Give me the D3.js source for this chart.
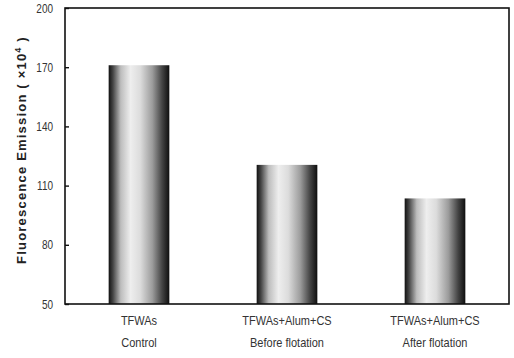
<!DOCTYPE html>
<html><head><meta charset="utf-8">
<script src="https://cdn.jsdelivr.net/npm/d3@7"></script>
<style>
html,body{margin:0;padding:0;background:#fff;}
svg{display:block;}
</style></head>
<body>
<script>
const categories = ["TFWAs|Control", "TFWAs+Alum+CS|Before flotation", "TFWAs+Alum+CS|After flotation"];
const values = [171, 120.5, 103.5];
const yTicks = [50, 80, 110, 140, 170, 200];

const W = 514, H = 358;
const m = {left: 65, right: 5, top: 8, bottom: 54};
const svg = d3.select("body").append("svg").attr("width", W).attr("height", H);

const defs = svg.append("defs");
const g = defs.append("linearGradient").attr("id", "cyl").attr("x1", "0").attr("x2", "1").attr("y1", "0").attr("y2", "0");
[[0, "#111"], [0.07, "#444"], [0.2, "#bdbdbd"], [0.36, "#eeeeee"], [0.52, "#dcdcdc"], [0.72, "#9c9c9c"], [0.88, "#444"], [1, "#0e0e0e"]]
  .forEach(([o, c]) => g.append("stop").attr("offset", o).attr("stop-color", c));

const x = d3.scaleBand().domain(categories).range([m.left, W - m.right]).padding(0);
const y = d3.scaleLinear().domain([50, 200]).range([H - m.bottom, m.top]);
const bw = x.bandwidth() * 0.41;

svg.append("g").selectAll("rect").data(categories).join("rect")
  .attr("x", d => x(d) + x.bandwidth() / 2 - bw / 2)
  .attr("y", (d, i) => y(values[i]))
  .attr("width", bw)
  .attr("height", (d, i) => y(50) - y(values[i]))
  .attr("fill", "url(#cyl)");

// frame
svg.append("rect").attr("x", m.left).attr("y", m.top)
  .attr("width", W - m.right - m.left).attr("height", H - m.bottom - m.top)
  .attr("fill", "none").attr("stroke", "#111").attr("stroke-width", 1.6);

const sx = 0.8;
const yAxis = svg.append("g").attr("transform", `translate(${m.left},0)`)
  .call(d3.axisRight(y).tickValues(yTicks).tickSize(4).tickFormat(d3.format("d")));
yAxis.select(".domain").remove();
yAxis.selectAll("line").attr("stroke", "#111").attr("stroke-width", 1.4);
yAxis.selectAll("text").attr("x", -12 / sx).attr("text-anchor", "end")
  .attr("transform", `scale(${sx},1)`)
  .attr("font-family", "'Liberation Sans',Arial,sans-serif")
  .attr("font-size", 12.5).attr("fill", "#333");

const sx2 = 0.88;
const xAxis = svg.append("g").attr("transform", `translate(0,${H - m.bottom})`)
  .call(d3.axisBottom(x).tickSize(0).tickFormat(""));
xAxis.select(".domain").remove();
xAxis.selectAll(".tick").each(function(d) {
  const parts = d.split("|");
  const t = d3.select(this).append("text")
    .attr("transform", `scale(${sx2},1)`)
    .attr("text-anchor", "middle").attr("fill", "#333")
    .attr("font-family", "'Liberation Sans',Arial,sans-serif")
    .attr("font-size", 12.5);
  parts.forEach((p, i) => t.append("tspan").attr("x", 0).attr("y", 21 + i * 22).text(p));
});

const title = svg.append("text")
  .attr("transform", `translate(26,150) rotate(-90)`)
  .attr("text-anchor", "middle")
  .attr("font-family", "'Liberation Sans',Arial,sans-serif")
  .attr("letter-spacing", 1.2)
  .attr("font-weight", "bold").attr("font-size", 13).attr("fill", "#222");
title.append("tspan").text("Fluorescence Emission ( ×10");
title.append("tspan").attr("dy", -5).attr("font-size", 9).text("4");
title.append("tspan").attr("dy", 5).text(" )");
</script>
</body></html>
